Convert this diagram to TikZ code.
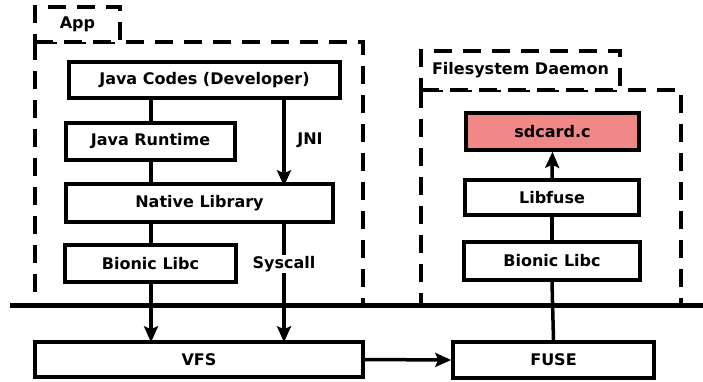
\documentclass[tikz,border=0pt]{standalone}
\usepackage{fontspec}
\setmainfont{DejaVu Sans}
\usetikzlibrary{arrows.meta}
\definecolor{salmon}{RGB}{240,136,136}
\begin{document}
\begin{tikzpicture}[x=1pt,y=-1pt,
  font=\fontsize{16}{19}\selectfont\bfseries,
  box/.style={draw,line width=3.5pt,inner sep=0pt,fill=white},
  dbox/.style={draw,line width=3.5pt,dash pattern=on 18pt off 11pt},
  conn/.style={line width=3.5pt},
  arr/.style={line width=3.5pt,-{Stealth[length=16pt,width=14pt,inset=3pt]}},
  lbl/.style={fill=white,inner sep=1pt}]
\useasboundingbox (0,0) rectangle (703,381);
% containers
\draw[dbox] (35,42) rectangle (363,305);
\draw[dbox] (421,90) rectangle (681,305);
\node[dbox,minimum width=85pt,minimum height=35pt,inner sep=0pt,fill=white] (applbl) at (77.5,24.5) {App};
\node[dbox,minimum width=199pt,minimum height=39pt,inner sep=0pt,fill=white] (fslbl) at (520.5,70.5) {Filesystem Daemon};
% App nodes
\node[box,minimum width=271pt,minimum height=36pt] (java) at (204.5,80) {Java Codes (Developer)};
\node[box,minimum width=169pt,minimum height=37pt] (runtime) at (150.5,141.5) {Java Runtime};
\node[box,minimum width=267pt,minimum height=38pt] (native) at (199.5,203) {Native Library};
\node[box,minimum width=171pt,minimum height=37pt] (bionicL) at (150.5,263.5) {Bionic Libc};
% Daemon nodes
\node[box,fill=salmon,minimum width=173pt,minimum height=37pt] (sdcard) at (552.5,131.5) {sdcard.c};
\node[box,minimum width=174pt,minimum height=35pt] (libfuse) at (552,197.5) {Libfuse};
\node[box,minimum width=176pt,minimum height=38pt] (bionicR) at (552,261) {Bionic Libc};
% kernel
\node[box,minimum width=328pt,minimum height=35pt] (vfs) at (199,359.5) {VFS};
\node[box,minimum width=201pt,minimum height=36pt] (fuse) at (553.5,360) {FUSE};
% kernel boundary
\coordinate (hl) at (10,305);
\coordinate (hr) at (703,305);
\draw[line width=5pt] (hl) -- (hr);
% connectors
\coordinate (lx) at (151,0);
\coordinate (rx) at (284,0);
\draw[conn] (java.south -| lx) -- (runtime.north -| lx);
\draw[conn] (runtime.south -| lx) -- (native.north -| lx);
\draw[conn] (native.south -| lx) -- (bionicL.north -| lx);
\draw[arr] (bionicL.south -| lx) -- ([yshift=-2pt]vfs.north -| lx);
\draw[arr] (java.south -| rx) -- ([yshift=-4pt]native.north -| rx);
\draw[arr] (native.south -| rx) -- ([yshift=-2pt]vfs.north -| rx) node[lbl,pos=0.34] (sys) {Syscall};
\node (jni) at (310,140) {JNI};
\draw[arr] (libfuse.north) -- (sdcard.south);
\draw[conn] (libfuse.south) -- (bionicR.north);
\draw[conn] (bionicR.south) -- (fuse.north);
\draw[arr] (vfs.east) -- (fuse.west);
\end{tikzpicture}
\end{document}
